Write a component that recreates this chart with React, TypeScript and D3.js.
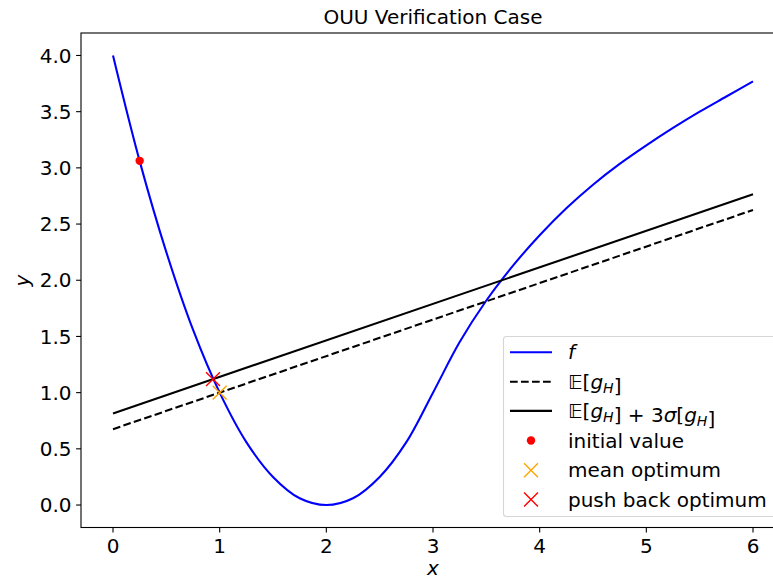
import React from 'react';
import * as d3 from 'd3';

// ---- data ----
const fX = [0, 0.25, 0.5, 0.75, 1, 1.25, 1.5, 1.75, 2, 2.25, 2.5, 2.75, 3, 3.25, 3.5, 3.75, 4, 4.25, 4.5, 4.75, 5, 5.25, 5.5, 5.75, 6];
const fY = [4.0, 3.06, 2.25, 1.56, 1.0, 0.56, 0.25, 0.06, 0.0, 0.06, 0.25, 0.56, 1.0, 1.45, 1.82, 2.13, 2.40, 2.64, 2.85, 3.035, 3.20, 3.355, 3.50, 3.635, 3.77];
const lineX = [0, 6];
const meanGY = [0.675, 2.625];
const pushGY = [0.815, 2.765];
const initialPoint = { x: 0.25, y: 3.0625 };
const meanOptimum = { x: 1.0, y: 1.0 };
const pushOptimum = { x: 0.9375, y: 1.12 };
const xTicks = [0, 1, 2, 3, 4, 5, 6];
const yTicks = [0, 0.5, 1, 1.5, 2, 2.5, 3, 3.5, 4];
const titleText = 'OUU Verification Case';

const W = 773;
const H = 577;
const left = 81, right = 785, top = 33, bottom = 527.5;
const FONT = '"DejaVu Sans", sans-serif';
const FS = 20;

const XMark = ({ cx, cy, color }: { cx: number; cy: number; color: string }) => {
  const h = 6.95;
  return (
    <path
      d={`M${cx - h},${cy - h}L${cx + h},${cy + h}M${cx - h},${cy + h}L${cx + h},${cy - h}`}
      stroke={color}
      strokeWidth={1.4}
      fill="none"
    />
  );
};

const Sub = ({ t }: { t: string }) => (
  <>
    <tspan fontStyle="italic" fontSize={FS * 0.7} dy={4}>{t}</tspan>
    <tspan dy={-4}></tspan>
  </>
);

export default function App() {
  const x = d3.scaleLinear().domain([-0.3, 6.3]).range([left, right]);
  const y = d3.scaleLinear().domain([-0.2, 4.2]).range([bottom, top]);

  const fPts: [number, number][] = fX.map((v, i) => [v, fY[i]]);
  const fPath = d3
    .line<[number, number]>()
    .x((d) => x(d[0]))
    .y((d) => y(d[1]))
    .curve(d3.curveCatmullRom.alpha(0.5))(fPts) || '';
  const straight = d3
    .line<[number, number]>()
    .x((d) => x(d[0]))
    .y((d) => y(d[1]));
  const meanPath = straight(lineX.map((v, i) => [v, meanGY[i]] as [number, number])) || '';
  const pushPath = straight(lineX.map((v, i) => [v, pushGY[i]] as [number, number])) || '';

  const lw = 2.08;
  const dash = '7.7,3.3';

  // legend
  const lgX = 503.5, lgY = 336.5, lgW = 277, lgH = 180;
  const rowY = [352.3, 381.7, 410.9, 440.5, 470.3, 499.5];
  const hx0 = 510, hx1 = 552, hxc = 531, tx = 568;
  const tdy = 7;

  return (
    <svg
      width={W}
      height={H}
      style={{ position: 'fixed', left: 0, top: 0, background: '#fff' }}
      fontFamily={FONT}
    >
      <rect x={0} y={0} width={W} height={H} fill="#fff" />
      <defs>
        <clipPath id="plotclip">
          <rect x={left} y={top} width={right - left} height={bottom - top} />
        </clipPath>
      </defs>

      {/* title */}
      <text x={(left + right) / 2} y={24.3} textAnchor="middle" fontSize={FS} fill="#000">
        {titleText}
      </text>

      <g clipPath="url(#plotclip)">
        <path d={fPath} stroke="#0000ff" strokeWidth={lw} fill="none" />
        <path d={meanPath} stroke="#000" strokeWidth={lw} strokeDasharray={dash} fill="none" />
        <path d={pushPath} stroke="#000" strokeWidth={lw} fill="none" />
        <circle cx={x(initialPoint.x)} cy={y(initialPoint.y)} r={4.2} fill="#ff0000" />
        <XMark cx={x(meanOptimum.x)} cy={y(meanOptimum.y)} color="#ffa500" />
        <XMark cx={x(pushOptimum.x)} cy={y(pushOptimum.y)} color="#ff0000" />
      </g>

      {/* spines */}
      <rect x={left} y={top} width={right - left} height={bottom - top} fill="none" stroke="#000" strokeWidth={1.1} />

      {/* x ticks */}
      {xTicks.map((t) => (
        <g key={'x' + t}>
          <line x1={x(t)} x2={x(t)} y1={bottom} y2={bottom + 4.9} stroke="#000" strokeWidth={1.1} />
          <text x={x(t)} y={552.7} textAnchor="middle" fontSize={FS} fill="#000">
            {String(t)}
          </text>
        </g>
      ))}
      {/* y ticks */}
      {yTicks.map((t) => (
        <g key={'y' + t}>
          <line x1={left - 4.9} x2={left} y1={y(t)} y2={y(t)} stroke="#000" strokeWidth={1.1} />
          <text x={71.5} y={y(t) + 7.1} textAnchor="end" fontSize={FS} fill="#000">
            {t.toFixed(1)}
          </text>
        </g>
      ))}

      {/* axis labels */}
      <text x={(left + right) / 2} y={574.5} textAnchor="middle" fontSize={FS} fontStyle="italic" fill="#000">
        x
      </text>
      <text transform={`translate(29,280.5) rotate(-90)`} textAnchor="middle" fontSize={FS} fontStyle="italic" fill="#000">
        y
      </text>

      {/* legend */}
      <rect x={lgX} y={lgY} width={lgW} height={lgH} rx={3} fill="#fff" fillOpacity={0.8} stroke="#d6d6d6" strokeWidth={1.1} />
      <line x1={hx0} x2={hx1} y1={rowY[0]} y2={rowY[0]} stroke="#0000ff" strokeWidth={lw} />
      <line x1={hx0} x2={hx1} y1={rowY[1]} y2={rowY[1]} stroke="#000" strokeWidth={lw} strokeDasharray={dash} />
      <line x1={hx0} x2={hx1} y1={rowY[2]} y2={rowY[2]} stroke="#000" strokeWidth={lw} />
      <circle cx={hxc} cy={rowY[3]} r={4.2} fill="#ff0000" />
      <XMark cx={hxc} cy={rowY[4]} color="#ffa500" />
      <XMark cx={hxc} cy={rowY[5]} color="#ff0000" />

      <text x={tx} y={rowY[0] + tdy} fontSize={FS} fill="#000">
        <tspan fontStyle="italic">f</tspan>
      </text>
      <text x={tx} y={rowY[1] + tdy} fontSize={FS} fill="#000">
        <tspan>{'\u{1D53C}['}</tspan>
        <tspan fontStyle="italic">g</tspan>
        <Sub t="H" />
        <tspan>]</tspan>
      </text>
      <text x={tx} y={rowY[2] + tdy} fontSize={FS} fill="#000">
        <tspan>{'\u{1D53C}['}</tspan>
        <tspan fontStyle="italic">g</tspan>
        <Sub t="H" />
        <tspan>{'] + 3'}</tspan>
        <tspan fontStyle="italic">σ</tspan>
        <tspan>[</tspan>
        <tspan fontStyle="italic">g</tspan>
        <Sub t="H" />
        <tspan>]</tspan>
      </text>
      <text x={tx} y={rowY[3] + tdy} fontSize={FS} fill="#000">initial value</text>
      <text x={tx} y={rowY[4] + tdy} fontSize={FS} fill="#000">mean optimum</text>
      <text x={tx} y={rowY[5] + tdy} fontSize={FS} fill="#000">push back optimum</text>
    </svg>
  );
}
